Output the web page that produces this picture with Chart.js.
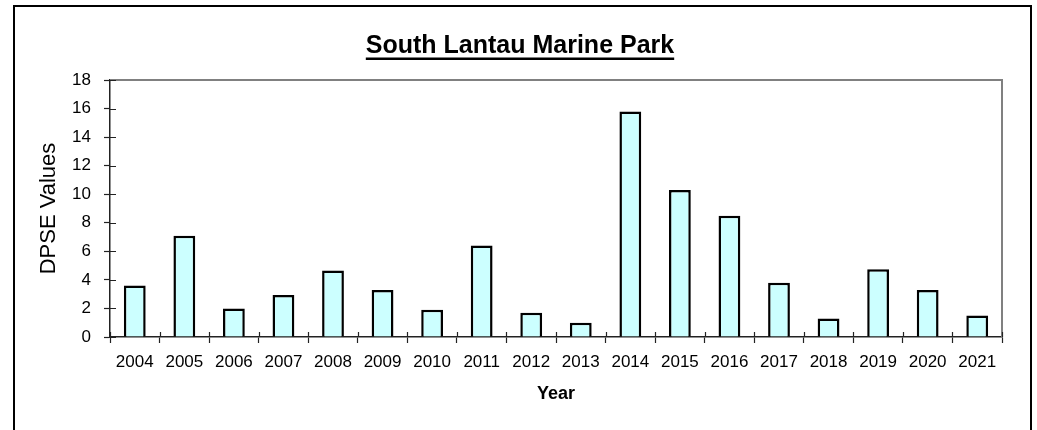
<!DOCTYPE html>
<html lang="en">
<head>
    <meta charset="UTF-8">
    <title>South Lantau Marine Park - DPSE Values</title>
    <script src="https://cdn.jsdelivr.net/npm/chart.js@4.4.0/dist/chart.umd.min.js"></script>
    <style>
        html, body {
            margin: 0;
            padding: 0;
            background: #fff;
            overflow: hidden;
        }
        .chart-wrap {
            position: absolute;
            left: 0;
            top: 0;
            width: 1037px;
            height: 430px;
        }
        .frame {
            position: absolute;
            left: 13px;
            top: 5px;
            width: 1015px;
            height: 460px;
            border: 2px solid #000;
            pointer-events: none;
        }
    </style>
</head>
<body>
    <div class="chart-wrap">
        <canvas id="dpseChart" width="1037" height="430"></canvas>
    </div>
    <div class="frame"></div>

    <script>
        const years = ['2004', '2005', '2006', '2007', '2008', '2009', '2010', '2011', '2012',
                       '2013', '2014', '2015', '2016', '2017', '2018', '2019', '2020', '2021'];
        const dpseValues = [3.6, 7.1, 2.0, 2.95, 4.65, 3.3, 1.9, 6.4, 1.7,
                            1.0, 15.8, 10.3, 8.5, 3.8, 1.3, 4.75, 3.3, 1.5];
        const yMin = 0;
        const yMax = 18;
        const yStep = 2;

        const chartTitle = 'South Lantau Marine Park';
        const FONT = "'Liberation Sans', Arial, sans-serif";

        // grey frame on top/right of the plot, cross-through tick stubs, title underline
        const plotDecor = {
            id: 'plotDecor',
            afterDraw(chart) {
                const ctx = chart.ctx;
                const area = chart.chartArea;
                const xs = chart.scales.x;
                const ys = chart.scales.y;
                ctx.save();

                ctx.strokeStyle = '#808080';
                ctx.lineWidth = 2;
                ctx.beginPath();
                ctx.moveTo(area.left, area.top);
                ctx.lineTo(area.right, area.top);
                ctx.lineTo(area.right, area.bottom);
                ctx.stroke();

                ctx.strokeStyle = '#222';
                ctx.lineWidth = 1.2;
                ctx.beginPath();
                ys.ticks.forEach(t => {
                    const y = Math.round(ys.getPixelForValue(t.value)) + 0.5;
                    ctx.moveTo(area.left, y);
                    ctx.lineTo(area.left + 6, y);
                });
                for (let i = 0; i <= years.length; i++) {
                    const x = Math.round(xs.getPixelForValue(i - 0.5)) + 0.5;
                    ctx.moveTo(x, area.bottom);
                    ctx.lineTo(x, area.bottom - 5);
                }
                ctx.stroke();

                const tb = chart.titleBlock;
                const f = chart.options.plugins.title.font;
                ctx.font = `bold ${f.size}px ${FONT}`;
                const w = ctx.measureText(chartTitle).width;
                const cx = (tb.left + tb.right) / 2;
                const cy = tb.top + chart.options.plugins.title.padding.top + f.size / 2;
                ctx.fillStyle = '#000';
                ctx.fillRect(cx - w / 2, cy + 11, w, 2.5);

                ctx.restore();
            }
        };

        new Chart(document.getElementById('dpseChart'), {
            type: 'bar',
            data: {
                labels: years,
                datasets: [{
                    label: 'DPSE Values',
                    data: dpseValues,
                    backgroundColor: '#CCFFFF',
                    borderColor: '#000',
                    borderWidth: 2.5,
                    categoryPercentage: 1.0,
                    barPercentage: 0.44
                }]
            },
            options: {
                responsive: false,
                animation: false,
                events: [],
                layout: {
                    padding: { left: 38, right: 35, top: 0, bottom: 0 }
                },
                plugins: {
                    legend: { display: false },
                    tooltip: { enabled: false },
                    title: {
                        display: true,
                        text: chartTitle,
                        color: '#000',
                        font: { family: FONT, size: 25, weight: 'bold', lineHeight: 1 },
                        padding: { top: 34, bottom: 21 }
                    }
                },
                scales: {
                    x: {
                        afterFit(scale) { scale.height = 93; },
                        grid: {
                            offset: true,
                            drawOnChartArea: false,
                            drawTicks: true,
                            tickLength: 6,
                            tickColor: '#222',
                            tickWidth: 1.2
                        },
                        border: { display: true, color: '#222', width: 1.5 },
                        ticks: {
                            color: '#000',
                            font: { family: FONT, size: 17, lineHeight: 1 },
                            padding: 11,
                            maxRotation: 0,
                            autoSkip: false
                        },
                        title: {
                            display: true,
                            text: 'Year',
                            color: '#000',
                            font: { family: FONT, size: 18, weight: 'bold', lineHeight: 1 },
                            padding: { top: 0, bottom: 27 }
                        }
                    },
                    y: {
                        min: yMin,
                        max: yMax,
                        afterFit(scale) { scale.width = 72; },
                        grid: {
                            drawOnChartArea: false,
                            drawTicks: true,
                            tickLength: 6,
                            tickColor: '#222',
                            tickWidth: 1.2
                        },
                        border: { display: true, color: '#222', width: 1.5 },
                        ticks: {
                            stepSize: yStep,
                            color: '#000',
                            font: { family: FONT, size: 17 },
                            padding: 13
                        },
                        title: {
                            display: true,
                            text: 'DPSE Values',
                            color: '#000',
                            font: { family: FONT, size: 22, lineHeight: 1 },
                            padding: { top: 0, bottom: 0 }
                        }
                    }
                }
            },
            plugins: [plotDecor]
        });
    </script>
</body>
</html>
